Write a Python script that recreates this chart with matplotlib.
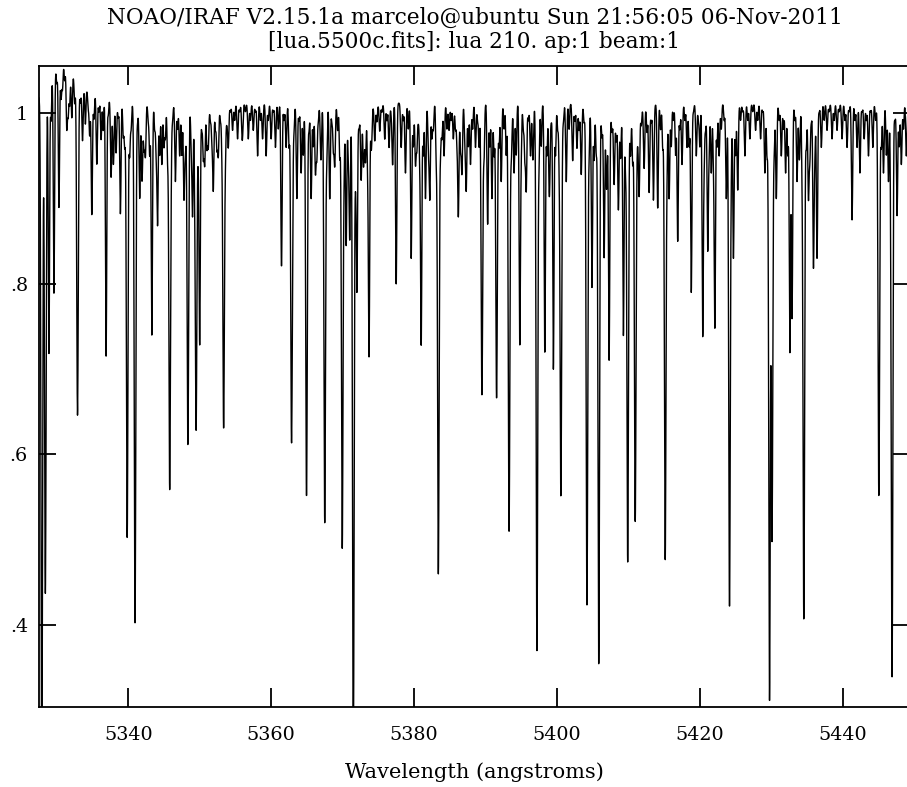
import numpy as np
import matplotlib
matplotlib.use("Agg")
import matplotlib.pyplot as plt
from matplotlib.ticker import FixedLocator, FuncFormatter

# ---- data -----------------------------------------------------------------
# strong / medium absorption lines: centre (angstrom) and flux at line core
line_centers = [
    5327.9, 5328.4, 5328.9, 5329.6, 5330.3, 5331.4, 5332.1, 5332.9, 5333.6,
    5334.9, 5335.6, 5336.2, 5336.9, 5337.6, 5338.3, 5338.9, 5339.85, 5340.95,
    5341.6, 5342.4, 5343.3, 5344.1, 5344.7, 5345.8, 5346.6, 5347.2, 5347.8,
    5348.35, 5349.0, 5349.5, 5350.0, 5350.7, 5351.2, 5351.9, 5352.6, 5353.35,
    5354.0, 5354.6, 5355.3, 5356.0, 5356.8, 5357.5, 5358.1, 5358.8, 5359.3,
    5360.0, 5360.6, 5361.45, 5362.1, 5362.85, 5363.6, 5364.2, 5364.95, 5365.6,
    5366.2, 5367.5, 5368.2, 5368.9, 5369.95, 5370.5, 5371.0, 5371.5, 5372.0,
    5372.6, 5373.2, 5373.7, 5374.5, 5375.2, 5375.9, 5376.5, 5377.0, 5377.5,
    5378.2, 5378.8, 5379.6, 5380.2, 5381.0, 5381.6, 5382.2, 5383.4, 5384.2,
    5384.9, 5385.5, 5386.2, 5386.7, 5387.3, 5387.9, 5388.6, 5389.5, 5390.3,
    5390.9, 5391.55, 5392.2, 5393.3, 5394.0, 5394.8, 5395.7, 5396.3, 5397.2,
    5398.3, 5398.9, 5399.5, 5400.55, 5401.3, 5402.2, 5402.8, 5403.4, 5404.2,
    5404.9, 5405.85, 5406.6, 5407.3, 5408.0, 5408.6, 5409.3, 5409.9, 5410.95,
    5411.5, 5412.2, 5412.9, 5413.5, 5414.1, 5415.15, 5415.7, 5416.9, 5417.5,
    5418.2, 5418.8, 5419.5, 5420.4, 5421.1, 5421.6, 5422.1, 5422.7, 5423.7,
    5424.15, 5424.7, 5425.3, 5426.3, 5427.0, 5427.8, 5428.5, 5429.1, 5429.75,
    5430.1, 5430.7, 5431.4, 5432.0, 5432.6, 5432.9, 5433.6, 5434.55, 5435.2,
    5435.9, 5436.4, 5437.0, 5437.8, 5438.5, 5439.2, 5439.9, 5440.6, 5441.3,
    5442.0, 5442.4, 5443.0, 5443.6, 5444.2, 5445.05, 5445.7, 5446.4, 5446.9,
    5447.6, 5448.2, 5448.9,
]
line_minima = [
    0.22, 0.43, 0.70, 0.76, 0.85, 0.94, 0.96, 0.63, 0.95,
    0.87, 0.93, 0.96, 0.71, 0.92, 0.95, 0.88, 0.50, 0.40,
    0.90, 0.95, 0.74, 0.87, 0.94, 0.56, 0.92, 0.95, 0.90,
    0.61, 0.88, 0.63, 0.73, 0.94, 0.96, 0.91, 0.95, 0.63,
    0.96, 0.98, 0.97, 0.98, 0.97, 0.98, 0.95, 0.97, 0.95,
    0.97, 0.96, 0.82, 0.96, 0.62, 0.90, 0.93, 0.55, 0.90,
    0.93, 0.52, 0.90, 0.94, 0.49, 0.85, 0.86, 0.24, 0.80,
    0.93, 0.95, 0.72, 0.97, 0.98, 0.97, 0.96, 0.94, 0.80,
    0.96, 0.93, 0.83, 0.94, 0.73, 0.90, 0.90, 0.46, 0.95,
    0.98, 0.97, 0.88, 0.93, 0.91, 0.94, 0.96, 0.67, 0.87,
    0.90, 0.665, 0.92, 0.51, 0.93, 0.73, 0.91, 0.95, 0.37,
    0.72, 0.93, 0.70, 0.55, 0.92, 0.945, 0.96, 0.93, 0.425,
    0.80, 0.355, 0.84, 0.72, 0.93, 0.90, 0.75, 0.48, 0.53,
    0.91, 0.94, 0.91, 0.90, 0.89, 0.475, 0.90, 0.85, 0.94,
    0.96, 0.79, 0.95, 0.74, 0.84, 0.93, 0.75, 0.95, 0.90,
    0.42, 0.83, 0.91, 0.95, 0.97, 0.98, 0.97, 0.93, 0.31,
    0.50, 0.90, 0.95, 0.93, 0.72, 0.76, 0.92, 0.405, 0.90,
    0.82, 0.83, 0.96, 0.98, 0.97, 0.98, 0.97, 0.96, 0.875,
    0.96, 0.93, 0.97, 0.95, 0.96, 0.55, 0.93, 0.92, 0.34,
    0.88, 0.94, 0.95,
]
# weak lines that make up the ragged continuum: centre, depth
weak_centers = [
    5328.2, 5329.2, 5330.0, 5330.6, 5330.8, 5331.1, 5331.6, 5331.8, 5332.5,
    5333.3, 5334.0, 5334.4, 5334.6, 5335.2, 5335.9, 5336.5, 5337.2, 5337.9,
    5338.0, 5338.6, 5339.3, 5339.5, 5340.2, 5340.4, 5341.3, 5341.9, 5342.0,
    5342.2, 5342.8, 5343.0, 5343.7, 5343.9, 5344.4, 5345.0, 5345.2, 5345.5,
    5346.0, 5346.2, 5346.9, 5347.5, 5348.0, 5348.8, 5349.3, 5349.8, 5350.3,
    5350.5, 5351.0, 5351.5, 5351.7, 5352.2, 5352.4, 5352.9, 5353.1, 5353.6,
    5353.8, 5354.3, 5354.9, 5355.6, 5355.9, 5356.4, 5357.1, 5357.8, 5358.5,
    5359.6, 5360.3, 5361.0, 5361.8, 5362.5, 5363.0, 5363.2, 5363.9, 5364.5,
    5365.3, 5365.9, 5366.4, 5366.6, 5366.9, 5367.0, 5367.8, 5368.5, 5368.7,
    5369.3, 5369.6, 5370.2, 5370.8, 5371.8, 5372.3, 5372.9, 5373.0, 5373.5,
    5374.0, 5374.1, 5374.8, 5375.5, 5376.2, 5376.8, 5378.5, 5379.2, 5379.9,
    5380.4, 5380.6, 5380.8, 5381.3, 5382.0, 5382.5, 5382.7, 5383.1, 5383.7,
    5383.9, 5384.6, 5385.2, 5385.8, 5386.0, 5386.5, 5387.1, 5387.6, 5388.2,
    5388.9, 5389.1, 5389.8, 5390.6, 5391.2, 5391.9, 5392.6, 5392.9, 5393.6,
    5393.7, 5394.3, 5395.0, 5395.3, 5395.5, 5396.0, 5396.6, 5396.7, 5397.5,
    5397.8, 5398.6, 5399.0, 5399.2, 5399.8, 5400.1, 5400.3, 5400.9, 5401.7,
    5402.5, 5403.1, 5403.8, 5404.5, 5405.2, 5405.5, 5406.3, 5406.9, 5407.0,
    5407.7, 5408.3, 5408.9, 5409.6, 5410.3, 5410.6, 5411.1, 5411.3, 5411.8,
    5412.6, 5413.2, 5414.5, 5414.8, 5415.4, 5416.0, 5416.3, 5416.6, 5417.2,
    5417.9, 5418.5, 5419.1, 5419.8, 5420.0, 5420.6, 5420.8, 5421.3, 5421.9,
    5422.4, 5423.0, 5423.4, 5424.4, 5425.0, 5425.7, 5426.0, 5426.7, 5427.4,
    5428.1, 5428.8, 5429.4, 5430.4, 5431.1, 5431.7, 5432.3, 5433.3, 5433.9,
    5434.0, 5434.3, 5434.9, 5435.4, 5435.6, 5436.1, 5436.7, 5437.4, 5438.1,
    5438.8, 5439.5, 5440.3, 5440.9, 5441.7, 5442.7, 5443.3, 5443.9, 5444.6,
    5445.4, 5446.1, 5446.7, 5447.3, 5447.9, 5448.5, 5449.2,
]
weak_depths = [
    0.03, 0.05, 0.02, 0.04, 0.03, 0.02, 0.05, 0.04, 0.03,
    0.02, 0.04, 0.02, 0.05, 0.03, 0.02, 0.04, 0.02, 0.06,
    0.03, 0.02, 0.04, 0.05, 0.06, 0.03, 0.02, 0.07, 0.04,
    0.05, 0.02, 0.06, 0.03, 0.05, 0.06, 0.05, 0.04, 0.06,
    0.05, 0.02, 0.03, 0.06, 0.05, 0.04, 0.06, 0.05, 0.03,
    0.06, 0.05, 0.02, 0.04, 0.03, 0.05, 0.02, 0.04, 0.05,
    0.02, 0.01, 0.02, 0.01, 0.02, 0.01, 0.02, 0.01, 0.02,
    0.02, 0.01, 0.03, 0.02, 0.05, 0.06, 0.03, 0.02, 0.06,
    0.03, 0.05, 0.06, 0.02, 0.03, 0.05, 0.06, 0.02, 0.05,
    0.03, 0.06, 0.06, 0.05, 0.06, 0.02, 0.05, 0.03, 0.06,
    0.04, 0.02, 0.02, 0.01, 0.02, 0.01, 0.02, 0.03, 0.05,
    0.05, 0.02, 0.06, 0.06, 0.05, 0.04, 0.03, 0.06, 0.05,
    0.04, 0.03, 0.02, 0.03, 0.04, 0.05, 0.04, 0.05, 0.03,
    0.02, 0.05, 0.06, 0.05, 0.06, 0.05, 0.03, 0.06, 0.05,
    0.02, 0.06, 0.05, 0.03, 0.06, 0.02, 0.05, 0.03, 0.06,
    0.05, 0.06, 0.05, 0.02, 0.06, 0.03, 0.05, 0.02, 0.03,
    0.02, 0.03, 0.02, 0.05, 0.06, 0.05, 0.03, 0.06, 0.05,
    0.02, 0.03, 0.05, 0.06, 0.05, 0.06, 0.05, 0.03, 0.02,
    0.03, 0.02, 0.03, 0.05, 0.06, 0.05, 0.02, 0.06, 0.03,
    0.02, 0.05, 0.01, 0.02, 0.05, 0.06, 0.03, 0.05, 0.06,
    0.05, 0.03, 0.02, 0.05, 0.06, 0.02, 0.01, 0.02, 0.01,
    0.02, 0.01, 0.06, 0.05, 0.02, 0.03, 0.06, 0.02, 0.05,
    0.03, 0.06, 0.05, 0.06, 0.02, 0.05, 0.01, 0.02, 0.01,
    0.02, 0.01, 0.02, 0.01, 0.02, 0.01, 0.02, 0.01, 0.02,
    0.05, 0.06, 0.05, 0.02, 0.05, 0.03, 0.02,
]
# broad continuum features: centre, amplitude (+ raise / - dip), width
cont_centers = [5330.6, 5334.5, 5408.5, 5372.0]
cont_amps = [0.045, 0.012, -0.015, -0.010]
cont_widths = [1.6, 2.5, 2.5, 1.5]

x_ticks = [5340, 5360, 5380, 5400, 5420, 5440]
y_ticks = [0.4, 0.6, 0.8, 1.0]

title_1 = "NOAO/IRAF V2.15.1a marcelo@ubuntu Sun 21:56:05 06-Nov-2011"
title_2 = "[lua.5500c.fits]: lua 210. ap:1 beam:1"

# ---- build the spectrum ----------------------------------------------------
wave = np.arange(5327.0, 5450.0, 0.02)
cont = np.full_like(wave, 1.012)
for c, a, w in zip(cont_centers, cont_amps, cont_widths):
    cont += a * np.exp(-0.5 * ((wave - c) / w) ** 2)

flux = cont.copy()
for c, m in zip(line_centers, line_minima):
    d = 1 - m / 1.012
    sig = 0.11 if m < 0.7 else 0.09
    flux *= 1 - d * np.exp(-0.5 * ((wave - c) / sig) ** 2)
for c, d in zip(weak_centers, weak_depths):
    flux *= 1 - d * np.exp(-0.5 * ((wave - c) / 0.08) ** 2)

# ---- figure ---------------------------------------------------------------
W, H = 907, 787
fig = plt.figure(figsize=(W / 100, H / 100), dpi=100)
ax = fig.add_axes([39 / W, 1 - 706.7 / H, 871 / W, (706.7 - 65.7) / H])

ax.plot(wave, flux, color="black", lw=1.0)
ax.set_xlim(5327.51, 5449.41)
ax.set_ylim(0.3042, 1.0558)

FONT = "DejaVu Serif"
ax.xaxis.set_major_locator(FixedLocator(x_ticks))
ax.yaxis.set_major_locator(FixedLocator(y_ticks))
ax.yaxis.set_major_formatter(FuncFormatter(lambda v, p: f"{v:g}".lstrip("0")))
ax.tick_params(axis="x", direction="in", length=13.7, width=1.3,
               top=True, pad=14, labelsize=13.8)
ax.tick_params(axis="y", direction="in", length=12.2, width=1.3,
               right=True, pad=8, labelsize=13.8)
for lab in ax.get_xticklabels() + ax.get_yticklabels():
    lab.set_family(FONT)
for s in ax.spines.values():
    s.set_linewidth(1.3)

ax.set_xlabel("Wavelength (angstroms)", family=FONT, fontsize=15,
              labelpad=13)

cx = (39 + 910) / 2 / W
fig.text(cx, 1 - 17.8 / H, title_1, ha="center", va="center",
         family=FONT, fontsize=15.6)
fig.text(cx, 1 - 42 / H, title_2, ha="center", va="center",
         family=FONT, fontsize=15.6)

fig.savefig("out.png", dpi=100, facecolor="white")
